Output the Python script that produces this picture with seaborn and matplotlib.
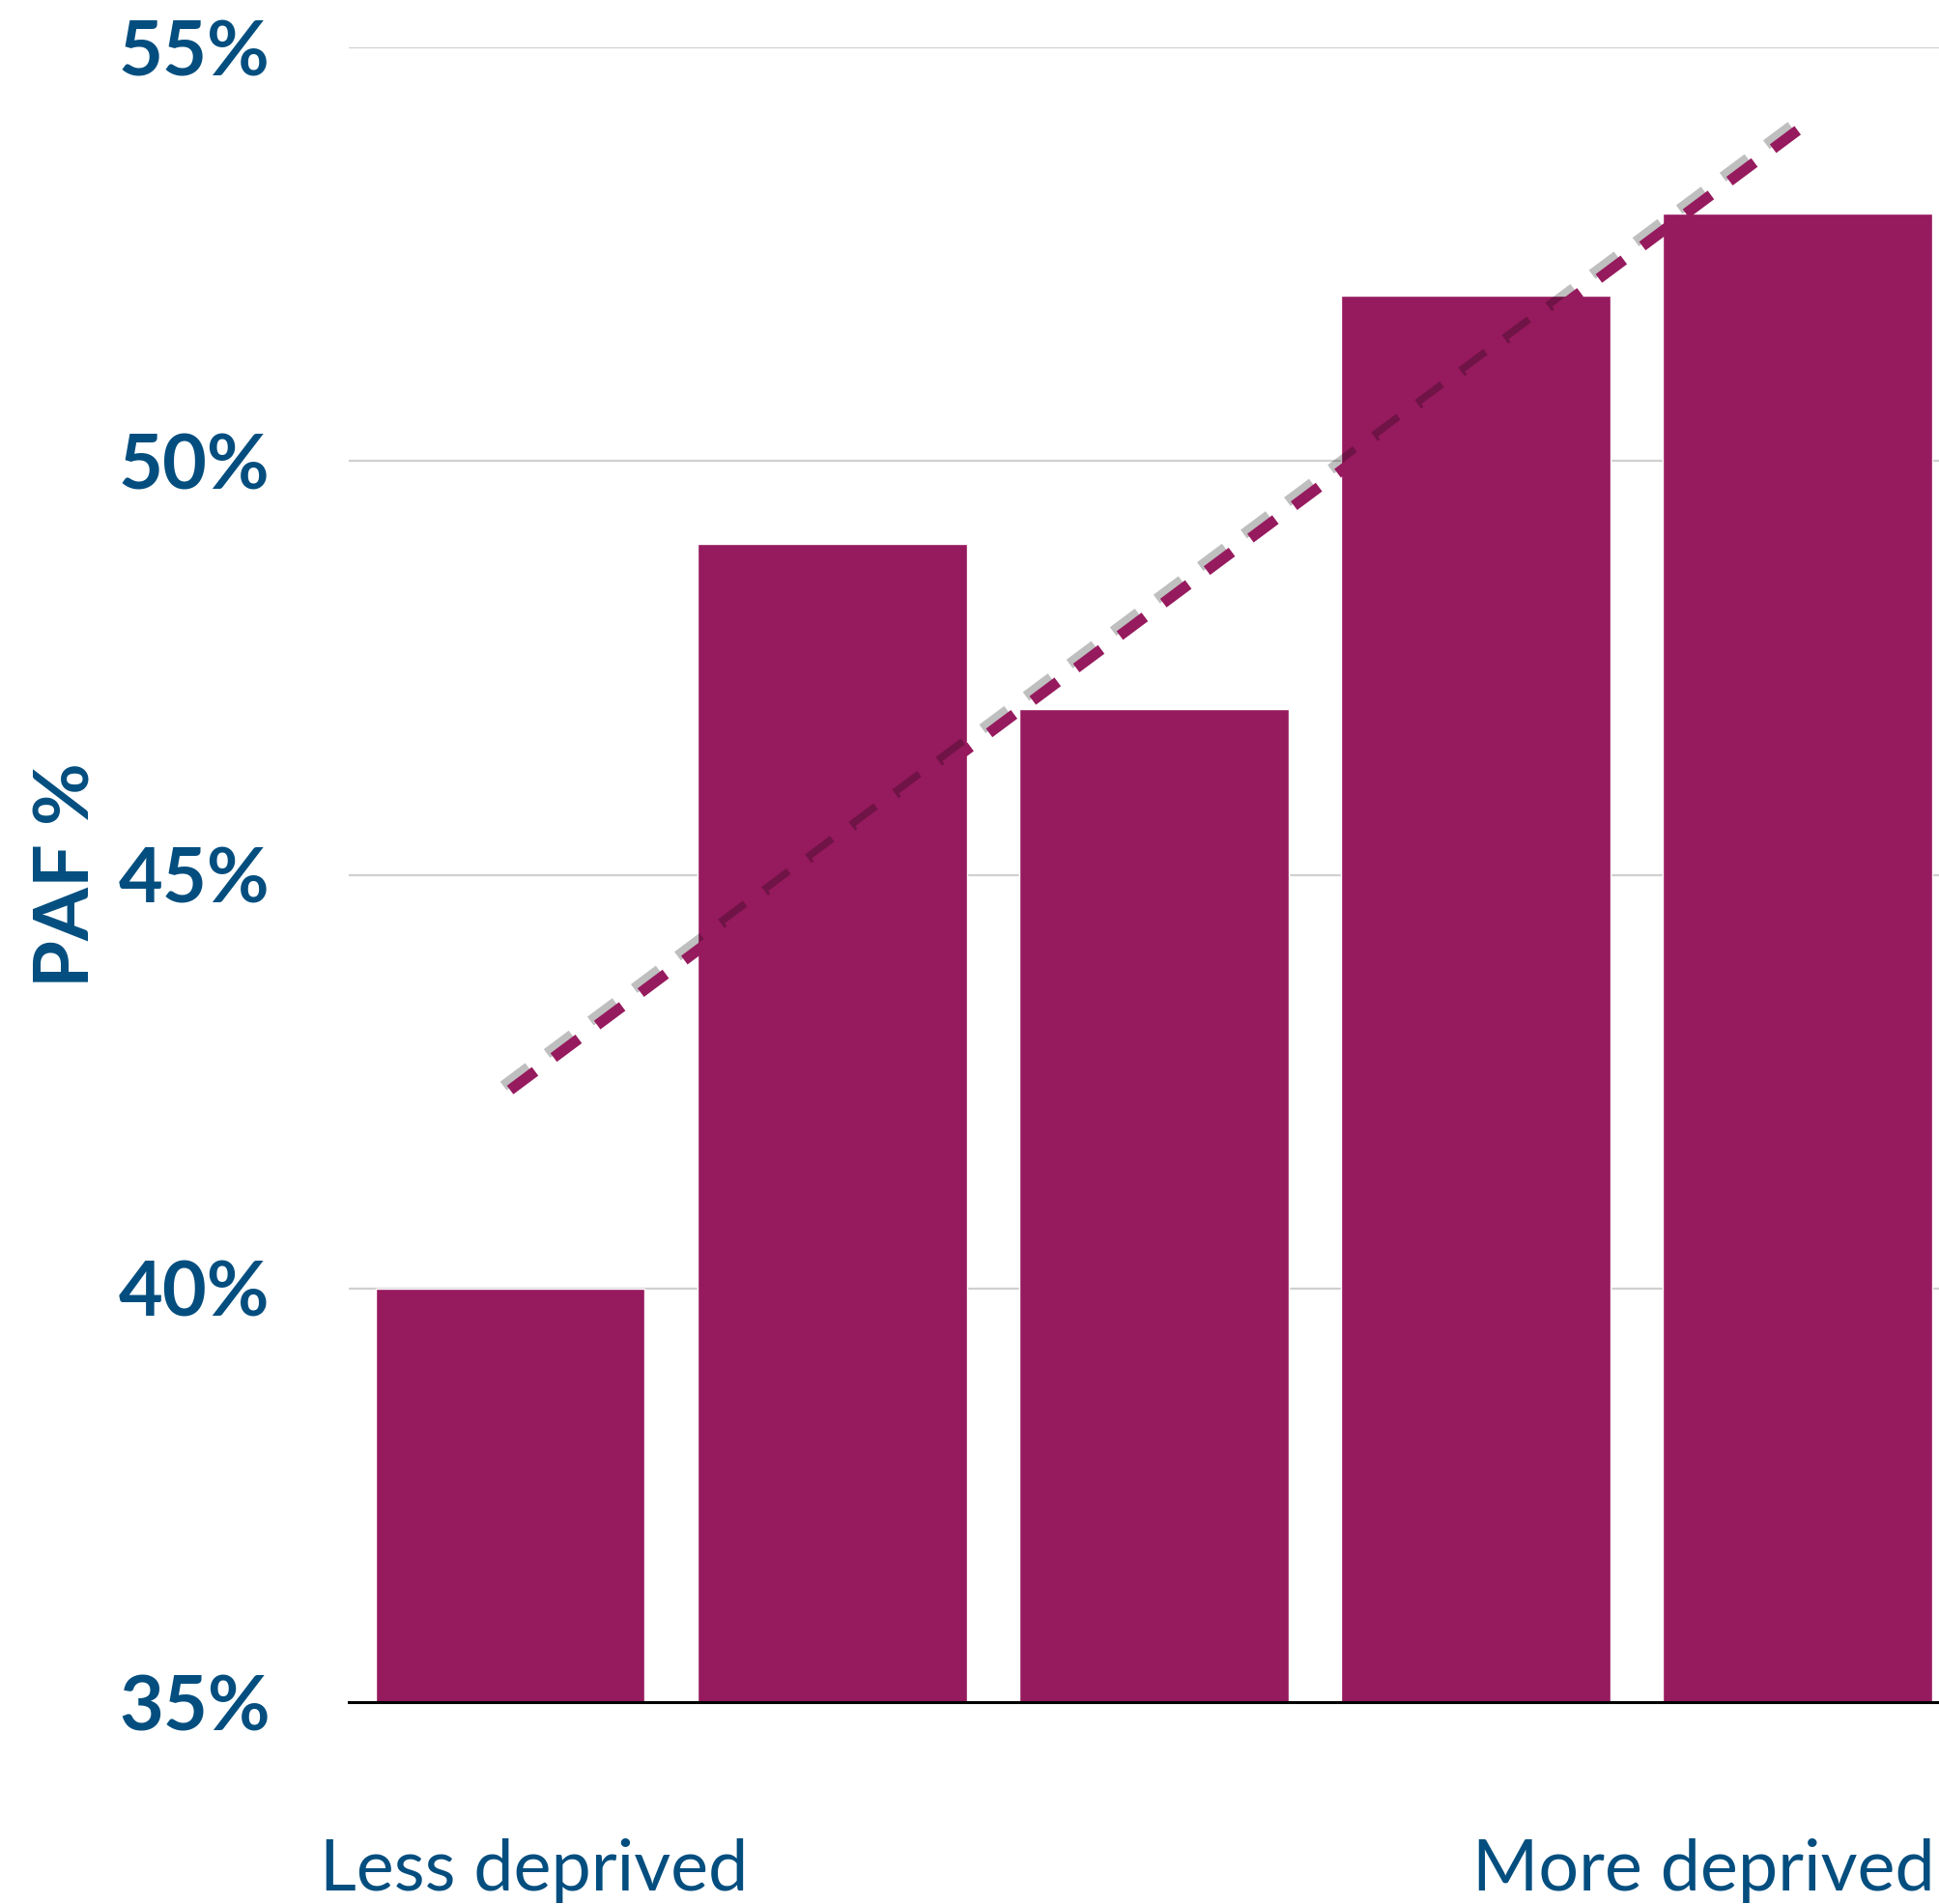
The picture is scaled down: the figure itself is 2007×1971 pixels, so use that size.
import numpy as np
import pandas as pd
import seaborn as sns
import matplotlib.pyplot as plt
import matplotlib.patheffects as pe

quintiles = ['Q1', 'Q2', 'Q3', 'Q4', 'Q5']
paf = [40.0, 49.0, 47.0, 52.0, 53.0]
yticks = [35, 40, 45, 50, 55]
ytick_labels = ['35%', '40%', '45%', '50%', '55%']
low_label = 'Less deprived'
high_label = 'More deprived'

bar_color = '#961A5E'
text_color = '#034E7F'

sns.set_style('white')
plt.rcParams['font.family'] = ['Lato', 'DejaVu Sans']

df = pd.DataFrame({'quintile': quintiles, 'paf': paf, 'pos': np.arange(len(paf))})

fig = plt.figure(figsize=(20.08, 19.71), dpi=100)
ax = fig.add_axes([0.18, 0.106, 0.8296, 0.869])

sns.barplot(ax=ax, data=df, x='quintile', y='paf', color=bar_color,
            width=0.837, saturation=1, zorder=2)

# linear trend line with a soft shadow
sns.regplot(ax=ax, data=df, x='pos', y='paf', scatter=False, ci=None,
            truncate=True,
            line_kws=dict(color=bar_color, linewidth=8, dashes=(2.9, 2.16),
                          dash_capstyle='butt', zorder=3,
                          path_effects=[pe.SimpleLineShadow(offset=(-5, 3),
                                                            shadow_color='black',
                                                            alpha=0.25),
                                        pe.Normal()]))

ax.set_xlim(-0.5, len(paf) - 0.5)
ax.set_ylim(35, 55)
ax.set_yticks(yticks)
ax.set_yticklabels(ytick_labels, fontsize=57, fontweight='bold', color=text_color)
ax.tick_params(axis='y', length=0, pad=59)
ax.set_xticks([])
ax.set_xlabel('')
ax.set_ylabel('PAF %', fontsize=57, fontweight='bold', color=text_color, labelpad=12)
ax.yaxis.grid(True, color='#D0D0D0', lw=1.6, zorder=0)
ax.set_axisbelow(True)

for s in ['top', 'right', 'left']:
    ax.spines[s].set_visible(False)
ax.spines['bottom'].set_color('black')
ax.spines['bottom'].set_linewidth(2.2)
ax.spines['bottom'].set_zorder(4)

ax.annotate(low_label, xy=(0.075, 0), xycoords=('data', 'axes fraction'),
            xytext=(0, -140), textcoords='offset points',
            ha='center', va='baseline', fontsize=53, color=text_color)
ax.annotate(high_label, xy=(len(paf) - 1 + 0.425, 0), xycoords=('data', 'axes fraction'),
            xytext=(0, -140), textcoords='offset points',
            ha='right', va='baseline', fontsize=53, color=text_color)

fig.savefig('out.png', dpi=100)
